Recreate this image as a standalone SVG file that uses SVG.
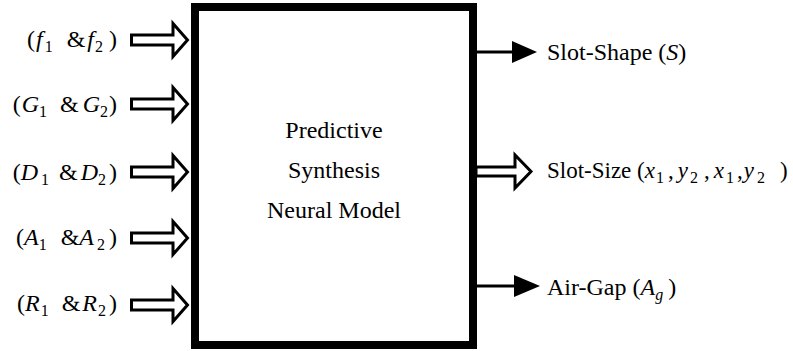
<svg xmlns="http://www.w3.org/2000/svg" xmlns:xlink="http://www.w3.org/1999/xlink" width="793" height="351" viewBox="0 0 793 351">
<style>
text{font-family:"Liberation Serif","Times New Roman",serif;font-size:24px;fill:#000}
.i{font-style:italic}
.s{font-size:16px}
.hollow{fill:#fff;stroke:#000;stroke-width:3;stroke-linejoin:miter;stroke-miterlimit:10}
.line{stroke:#000;stroke-width:3;fill:none}
.head{fill:#000}
.box{fill:#fff;stroke:#000;stroke-width:8}
</style>
<defs>
<path id="inArrow" d="M131.5,-5 H173 V-16.5 L187.5,0 L173,16.5 V5 H131.5 Z"/>
</defs>
<rect width="793" height="351" fill="#fff"/>
<g id="connectors">
<use xlink:href="#inArrow" class="hollow" transform="translate(0,40)"/>
<use xlink:href="#inArrow" class="hollow" transform="translate(0,104)"/>
<use xlink:href="#inArrow" class="hollow" transform="translate(0,172)"/>
<use xlink:href="#inArrow" class="hollow" transform="translate(0,238)"/>
<use xlink:href="#inArrow" class="hollow" transform="translate(0,305)"/>
<line class="line" x1="476" y1="52" x2="514" y2="52"/>
<polygon class="head" points="512,41 537,52 512,63"/>
<path class="hollow" d="M476,167 H515 V155 L531,171.5 L515,188 V176 H476 Z"/>
<line class="line" x1="476" y1="286" x2="516" y2="286"/>
<polygon class="head" points="514,275 540,286 514,297"/>
</g>
<g id="model">
<rect class="box" x="195" y="7" width="278" height="338"/>
<text x="334" y="138" text-anchor="middle">Predictive</text>
<text x="334" y="178" text-anchor="middle">Synthesis</text>
<text x="334" y="218" text-anchor="middle">Neural Model</text>
</g>
<g id="in-f">
<text x="117" y="47" text-anchor="end">(<tspan class="i" dx="1">f</tspan><tspan class="s" dx="2" dy="5">1</tspan><tspan dx="14" dy="-5">&amp;</tspan><tspan class="i" dx="2">f</tspan><tspan class="s" dx="1" dy="5">2</tspan><tspan dx="6" dy="-5">)</tspan></text>
</g>
<g id="in-G">
<text x="117" y="112" text-anchor="end">(<tspan class="i" dx="1">G</tspan><tspan class="s" dy="5">1</tspan><tspan dx="13" dy="-5">&amp;</tspan><tspan class="i" dx="4">G</tspan><tspan class="s" dy="5">2</tspan><tspan dx="1" dy="-5">)</tspan></text>
</g>
<g id="in-D">
<text x="117" y="180" text-anchor="end">(<tspan class="i">D</tspan><tspan class="s" dx="3" dy="5">1</tspan><tspan dx="10" dy="-5">&amp;</tspan><tspan class="i" dx="3">D</tspan><tspan class="s" dy="5">2</tspan><tspan dx="3" dy="-5">)</tspan></text>
</g>
<g id="in-A">
<text x="117" y="245" text-anchor="end">(<tspan class="i">A</tspan><tspan class="s" dy="5">1</tspan><tspan dx="14" dy="-5">&amp;</tspan><tspan class="i">A</tspan><tspan class="s" dx="3" dy="5">2</tspan><tspan dx="4" dy="-5">)</tspan></text>
</g>
<g id="in-R">
<text x="117" y="311" text-anchor="end">(<tspan class="i">R</tspan><tspan class="s" dx="1" dy="5">1</tspan><tspan dx="13" dy="-5">&amp;</tspan><tspan class="i" dx="2">R</tspan><tspan class="s" dx="1" dy="5">2</tspan><tspan dx="3" dy="-5">)</tspan></text>
</g>
<g id="out-shape">
<text x="547" y="60">Slot-Shape (<tspan class="i">S</tspan>)</text>
</g>
<g id="out-size">
<text x="547" y="178" style="font-size:23px">Slot-Size (<tspan class="i">x</tspan><tspan class="s" dx="1" dy="5">1</tspan><tspan dx="4" dy="-5">,</tspan><tspan class="i" dx="4">y</tspan><tspan class="s" dx="2" dy="5">2</tspan><tspan dx="6" dy="-5">,</tspan><tspan class="i" dx="4">x</tspan><tspan class="s" dx="2" dy="5">1</tspan><tspan dx="3" dy="-5">,</tspan><tspan class="i" dx="1">y</tspan><tspan class="s" dx="3" dy="5">2</tspan><tspan dx="15" dy="-5">)</tspan></text>
</g>
<g id="out-gap">
<text x="547" y="295">Air-Gap (<tspan class="i">A</tspan><tspan class="s i" dy="5">g</tspan><tspan dx="5" dy="-5">)</tspan></text>
</g>
</svg>
